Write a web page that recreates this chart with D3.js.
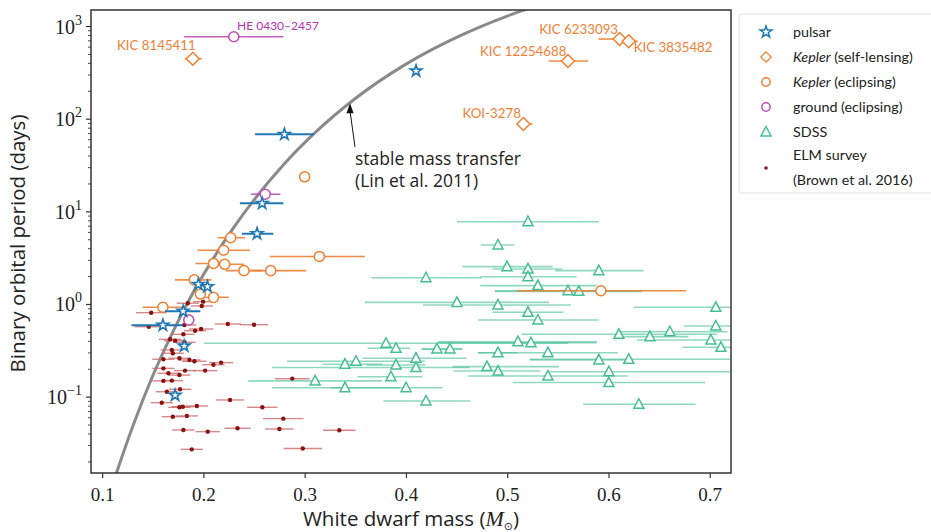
<!DOCTYPE html>
<html>
<head>
<meta charset="utf-8">
<script src="https://cdn.jsdelivr.net/npm/d3@7"></script>
<style>
  body { margin: 0; background: #fff; }
</style>
</head>
<body>
<svg id="chart" width="931" height="532" font-family="Lato, 'Open Sans', sans-serif"></svg>
<script>
// ---- data ----
const pulsarMass   = [0.410, 0.280, 0.258, 0.253, 0.195, 0.204, 0.180, 0.160, 0.181, 0.172];
const pulsarPeriod = [327, 67.8, 12.2, 5.74, 1.63, 1.54, 0.834, 0.589, 0.352, 0.1035];
const pulsarErrLo  = [0, 0.029, 0.022, 0.015, 0.004, 0.004, 0.018, 0.031, 0.004, 0.003];
const pulsarErrHi  = [0, 0.029, 0.021, 0.016, 0.004, 0.004, 0.017, 0.020, 0.004, 0.003];

const lensName   = ["KIC 8145411", "KIC 12254688", "KIC 6233093", "KIC 3835482", "KOI-3278"];
const lensMass   = [0.1895, 0.560, 0.611, 0.620, 0.516];
const lensPeriod = [444, 419, 724, 684, 87.6];
const lensErrLo  = [0.008, 0.019, 0.021, 0.009, 0.005];
const lensErrHi  = [0.009, 0.020, 0.010, 0.009, 0.009];

const eclMass   = [0.300, 0.227, 0.220, 0.3145, 0.210, 0.221, 0.240, 0.2665, 0.191, 0.197, 0.210, 0.160, 0.5925];
const eclPeriod = [23.6, 5.19, 3.80, 3.26, 2.74, 2.68, 2.29, 2.29, 1.82, 1.28, 1.18, 0.921, 1.39];
const eclErrLo  = [0, 0.013, 0.026, 0.049, 0.018, 0.010, 0.018, 0.020, 0.019, 0.005, 0.008, 0.020, 0.083];
const eclErrHi  = [0, 0.014, 0.026, 0.045, 0.016, 0.019, 0.018, 0.035, 0.017, 0.005, 0.015, 0.020, 0.084];

const groundName   = ["HE 0430\u20132457", "", ""];
const groundMass   = [0.230, 0.261, 0.1856];
const groundPeriod = [766, 15.3, 0.672];
const groundErrLo  = [0.049, 0.014, 0.005];
const groundErrHi  = [0.049, 0.015, 0.005];

const sdssMass   = [0.5205,0.4909,0.4998,0.5205,0.5905,0.4198,0.5205,0.5303,0.5600,0.5708,0.4504,0.4909,0.5205,0.5303,0.7060,0.7060,0.6103,0.6409,0.6606,0.7011,0.7110,0.3803,0.3902,0.4306,0.4435,0.5106,0.5234,0.4909,0.5402,0.4099,0.3398,0.3507,0.3902,0.4099,0.4800,0.4909,0.5905,0.6201,0.6004,0.3852,0.3103,0.5402,0.6004,0.3398,0.4001,0.4198,0.6300];
const sdssPeriod = [7.73,4.33,2.53,2.39,2.29,1.92,1.97,1.58,1.39,1.37,1.04,0.976,0.814,0.672,0.921,0.579,0.471,0.444,0.502,0.409,0.341,0.377,0.333,0.327,0.327,0.392,0.382,0.298,0.298,0.260,0.224,0.241,0.220,0.206,0.211,0.189,0.249,0.253,0.186,0.164,0.148,0.167,0.142,0.125,0.125,0.0898,0.0828];
const sdssErrLo  = [0.070,0.017,0.044,0.035,0.043,0.054,0.047,0.057,0.072,0.083,0.091,0.074,0.035,0.059,0.081,0.032,0.096,0.032,0.051,0.073,0.038,0.180,0.028,0.015,0.028,0.079,0.092,0.020,0.069,0.053,0.022,0.068,0.029,0.142,0.034,0.044,0.068,0.098,0.060,0.033,0.066,0.079,0.095,0.072,0.075,0.042,0.055];
const sdssErrHi  = [0.070,0.016,0.045,0.034,0.044,0.055,0.048,0.058,0.073,0.062,0.091,0.072,0.035,0.060,0.080,0.050,0.097,0.038,0.057,0.070,0.040,0.180,0.014,0.025,0.012,0.078,0.065,0.020,0.069,0.050,0.037,0.068,0.029,0.053,0.071,0.042,0.033,0.100,0.120,0.031,0.066,0.079,0.095,0.054,0.036,0.044,0.056];

const elmMass   = [0.1997,0.1984,0.1846,0.1484,0.1461,0.1812,0.1918,0.1977,0.2241,0.2500,0.1802,0.1671,0.1721,0.1812,0.1688,0.1698,0.1605,0.1763,0.1862,0.1911,0.2099,0.2175,0.1605,0.1654,0.1763,0.1819,0.2017,0.1605,0.1688,0.2878,0.1639,0.1770,0.1589,0.1763,0.1797,0.1935,0.2263,0.2582,0.1698,0.1836,0.2789,0.1802,0.2043,0.2337,0.2750,0.3342,0.1885,0.2981];
const elmPeriod = [1.06,0.952,1.02,0.806,0.569,0.594,0.515,0.537,0.608,0.598,0.471,0.416,0.402,0.386,0.319,0.294,0.253,0.260,0.249,0.241,0.221,0.233,0.202,0.179,0.171,0.191,0.191,0.148,0.149,0.156,0.113,0.120,0.0861,0.0768,0.0779,0.0793,0.0921,0.0768,0.0608,0.0619,0.0579,0.0437,0.0419,0.0456,0.0448,0.0434,0.0270,0.0276];
const elmErr    = [0.010,0.011,0.011,0.015,0.014,0.012,0.011,0.012,0.013,0.014,0.011,0.011,0.011,0.011,0.011,0.011,0.011,0.011,0.011,0.012,0.011,0.012,0.011,0.011,0.011,0.011,0.012,0.011,0.011,0.017,0.011,0.011,0.011,0.011,0.011,0.011,0.014,0.015,0.011,0.011,0.020,0.011,0.012,0.013,0.014,0.016,0.011,0.019];

// stable mass transfer track (Lin et al. 2011)
const curveMass   = [0.113, 0.13, 0.15, 0.17, 0.19, 0.21, 0.23, 0.25, 0.28, 0.31, 0.35, 0.40, 0.45, 0.50, 0.53];
const curvePeriod = [0.0138, 0.047, 0.168, 0.504, 1.34, 3.13, 6.71, 13.3, 32.7, 70.2, 165, 388, 755, 1281, 1671];

const xTicks = [0.1, 0.2, 0.3, 0.4, 0.5, 0.6, 0.7];
const yTicks = [0.1, 1, 10, 100, 1000];
const yTickExp = ["\u22121", "0", "1", "2", "3"];

const legendLabels = ["pulsar", "Kepler (self-lensing)", "Kepler (eclipsing)", "ground (eclipsing)", "SDSS", "ELM survey"];

// ---- layout ----
const svg = d3.select("#chart");
const plotL = 91, plotR = 731, plotT = 10, plotB = 473;
const serif = "'Liberation Serif', 'DejaVu Serif', serif";
const wide = "'Open Sans', Lato, sans-serif";

const x = d3.scaleLinear().domain([0.089, 0.721]).range([plotL, plotR]);
const y = d3.scaleLog().domain([0.015, 1489]).range([plotB, plotT]);

const C = {
  pulsar: "#1f77b4",
  kepler: "#ee8034",
  ground: "#c04cb8",
  sdss: "#45bf92",
  elm: "#8b1010",
  elmBar: "#cc6a6a",
  curve: "#8a8a8a"
};

svg.append("defs").append("clipPath").attr("id", "plotclip")
  .append("rect").attr("x", plotL).attr("y", plotT).attr("width", plotR - plotL).attr("height", plotB - plotT);

const plot = svg.append("g").attr("clip-path", "url(#plotclip)");

// marker shapes
const star = d3.symbol().type(d3.symbolStar).size(42)();
const diamond = "M0,-6.5L6.5,0L0,6.5L-6.5,0Z";
const triangle = "M0,-5.5L5,4L-5,4Z";
const circ = d3.symbol().type(d3.symbolCircle).size(80)();

function zipRows(m, p, lo, hi) {
  return m.map((v, i) => ({ m: v, p: p[i], lo: lo[i], hi: hi[i], i }));
}

function drawBars(g, rows, color, width, opacity) {
  g.selectAll(null).data(rows.filter(d => d.lo + d.hi > 0)).join("line")
    .attr("x1", d => x(d.m - d.lo)).attr("x2", d => x(d.m + d.hi))
    .attr("y1", d => y(d.p)).attr("y2", d => y(d.p))
    .attr("stroke", color).attr("stroke-width", width).attr("stroke-opacity", opacity);
}

function drawMarks(g, rows, shape, color, sw) {
  g.selectAll(null).data(rows).join("path")
    .attr("d", shape)
    .attr("transform", d => `translate(${x(d.m)},${y(d.p)})`)
    .attr("fill", "#fff").attr("stroke", color).attr("stroke-width", sw);
}

// curve
const line = d3.line().x(d => x(d[0])).y(d => y(d[1])).curve(d3.curveMonotoneX);
plot.append("path")
  .attr("d", line(curveMass.map((m, i) => [m, curvePeriod[i]])))
  .attr("fill", "none").attr("stroke", C.curve).attr("stroke-width", 3);

// ELM survey
const elmRows = zipRows(elmMass, elmPeriod, elmErr, elmErr);
const gElm = plot.append("g");
drawBars(gElm, elmRows, C.elmBar, 1.4, 0.8);
gElm.selectAll(null).data(elmRows).join("circle")
  .attr("cx", d => x(d.m)).attr("cy", d => y(d.p)).attr("r", 2.2).attr("fill", C.elm);

// SDSS
const sdssRows = zipRows(sdssMass, sdssPeriod, sdssErrLo, sdssErrHi);
const gSdss = plot.append("g");
drawBars(gSdss, sdssRows, C.sdss, 1.6, 0.6);
drawMarks(gSdss, sdssRows, triangle, C.sdss, 1.5);

// Kepler eclipsing
const eclRows = zipRows(eclMass, eclPeriod, eclErrLo, eclErrHi);
const gEcl = plot.append("g");
drawBars(gEcl, eclRows, C.kepler, 1.6, 0.9);
drawMarks(gEcl, eclRows, circ, C.kepler, 1.5);

// ground eclipsing
const groundRows = zipRows(groundMass, groundPeriod, groundErrLo, groundErrHi);
const gGround = plot.append("g");
drawBars(gGround, groundRows, C.ground, 1.6, 0.9);
drawMarks(gGround, groundRows, circ, C.ground, 1.5);

// Kepler self-lensing
const lensRows = zipRows(lensMass, lensPeriod, lensErrLo, lensErrHi);
const gLens = plot.append("g");
drawBars(gLens, lensRows, C.kepler, 1.6, 0.9);
drawMarks(gLens, lensRows, diamond, C.kepler, 1.5);

// pulsars
const pulsarRows = zipRows(pulsarMass, pulsarPeriod, pulsarErrLo, pulsarErrHi);
const gPsr = plot.append("g");
drawBars(gPsr, pulsarRows, C.pulsar, 2, 1);
drawMarks(gPsr, pulsarRows, star, C.pulsar, 1.6);

// object names
const lensLabelPos = [
  { dx: 3, dy: -9, anchor: "end" },
  { dx: -1.5, dy: -5.5, anchor: "end" },
  { dx: -1.5, dy: -5.5, anchor: "end" },
  { dx: 5, dy: 11, anchor: "start" },
  { dx: -2.5, dy: -6, anchor: "end" }
];
svg.append("g").selectAll("text").data(lensRows).join("text")
  .attr("x", d => x(d.m) + lensLabelPos[d.i].dx)
  .attr("y", d => y(d.p) + lensLabelPos[d.i].dy)
  .attr("text-anchor", d => lensLabelPos[d.i].anchor)
  .attr("font-size", 13.3).attr("fill", C.kepler)
  .text(d => lensName[d.i]);

svg.append("text")
  .attr("x", x(groundMass[0]) + 3.3).attr("y", y(groundPeriod[0]) - 7)
  .attr("font-size", 12).attr("fill", "#b433b4")
  .text(groundName[0]);

// annotation
const ann = svg.append("g");
const tip = [x(0.3448), y(147)], tail = [x(0.3497), y(49.5)];
ann.append("line")
  .attr("x1", tail[0]).attr("y1", tail[1]).attr("x2", tip[0]).attr("y2", tip[1] + 8)
  .attr("stroke", "#111").attr("stroke-width", 1);
ann.append("path")
  .attr("d", `M${tip[0]},${tip[1]}L${tip[0] - 3.6},${tip[1] + 10}L${tip[0] + 3.6},${tip[1] + 10}Z`)
  .attr("fill", "#111");
const annText = ann.append("text").attr("font-family", wide).attr("font-size", 17.5).attr("fill", "#222");
annText.append("tspan").attr("x", tail[0]).attr("y", y(31.6)).text("stable mass transfer");
annText.append("tspan").attr("x", tail[0]).attr("dy", 22).text("(Lin et al. 2011)");

// ---- axes ----
const axisColor = "#333";
const gx = svg.append("g").attr("transform", `translate(0,${plotB})`)
  .call(d3.axisBottom(x).tickValues(xTicks).tickSize(5).tickPadding(10).tickFormat(d3.format(".1f")));
gx.select(".domain").remove();
gx.selectAll(".tick line").attr("stroke", axisColor).attr("stroke-width", 1.2);
gx.selectAll(".tick text").style("font-family", serif).style("font-size", "19px").attr("fill", "#222");

const minor = [];
[0.01, 0.1, 1, 10, 100, 1000].forEach(b => { for (let k = 2; k <= 9; k++) { const v = b * k; if (v >= 0.015 && v <= 1489) minor.push(v); } });
const gyMinor = svg.append("g").attr("transform", `translate(${plotL},0)`)
  .call(d3.axisLeft(y).tickValues(minor).tickSize(3).tickFormat(""));
gyMinor.select(".domain").remove();
gyMinor.selectAll(".tick line").attr("stroke", axisColor).attr("stroke-width", 0.9);

const gy = svg.append("g").attr("transform", `translate(${plotL},0)`)
  .call(d3.axisLeft(y).tickValues(yTicks).tickSize(5).tickFormat(""));
gy.attr("font-family", serif).attr("font-size", 20);
gy.select(".domain").remove();
gy.selectAll(".tick line").attr("stroke", axisColor).attr("stroke-width", 1.2);
const yl = gy.selectAll(".tick").append("text")
  .attr("x", -9).attr("y", 7).attr("text-anchor", "end")
  .attr("fill", "#222");
yl.append("tspan").text("10");
yl.append("tspan").attr("dy", -9).attr("font-size", 14).text((d, i) => yTickExp[i]);

svg.append("rect")
  .attr("x", plotL).attr("y", plotT).attr("width", plotR - plotL).attr("height", plotB - plotT)
  .attr("fill", "none").attr("stroke", axisColor).attr("stroke-width", 1.5);

// axis titles
svg.append("text")
  .attr("transform", `translate(25,${(plotT + plotB) / 2 + 2}) rotate(-90)`)
  .attr("text-anchor", "middle").attr("font-family", wide).attr("font-size", 20.5).attr("fill", "#222")
  .text("Binary orbital period (days)");

const xt = svg.append("text")
  .attr("x", (plotL + plotR) / 2).attr("y", 526)
  .attr("text-anchor", "middle").attr("font-family", wide).attr("font-size", 20.5).attr("fill", "#222");
xt.append("tspan").text("White dwarf mass (");
xt.append("tspan").attr("font-family", serif).attr("font-style", "italic").attr("font-size", 22).text("M");
xt.append("tspan").attr("font-family", "'DejaVu Sans', sans-serif").attr("font-size", 11).attr("dy", 4).text("\u2299");
xt.append("tspan").attr("dy", -4).text(")");

// ---- legend ----
const lg = svg.append("g");
lg.append("rect").attr("x", 739).attr("y", 14).attr("width", 200).attr("height", 179).attr("rx", 3)
  .attr("fill", "#fff").attr("stroke", "#e2e2e2");
const legendShapes = [
  { shape: star, color: C.pulsar },
  { shape: diamond, color: C.kepler },
  { shape: d3.symbol().type(d3.symbolCircle).size(55)(), color: C.kepler },
  { shape: d3.symbol().type(d3.symbolCircle).size(55)(), color: C.ground },
  { shape: triangle, color: C.sdss }
];
const rowY = [32, 57, 82, 107, 132];
legendShapes.forEach((s, i) => {
  lg.append("path").attr("d", s.shape).attr("transform", `translate(766,${rowY[i]})${i === 1 ? " scale(0.8)" : ""}`)
    .attr("fill", "#fff").attr("stroke", s.color).attr("stroke-width", 1.5);
  const t = lg.append("text").attr("x", 793).attr("y", rowY[i] + 5).attr("font-size", 14.3).attr("fill", "#222");
  if (i === 1 || i === 2) {
    t.append("tspan").attr("font-style", "italic").text("Kepler");
    t.append("tspan").text(legendLabels[i].slice(6));
  } else {
    t.text(legendLabels[i]);
  }
});
lg.append("circle").attr("cx", 766).attr("cy", 168).attr("r", 1.8).attr("fill", C.elm);
lg.append("text").attr("x", 793).attr("y", 160).attr("font-size", 14.3).attr("fill", "#222").text(legendLabels[5]);
lg.append("text").attr("x", 793).attr("y", 185).attr("font-size", 14.3).attr("fill", "#222").text("(Brown et al. 2016)");
</script>
</body>
</html>
